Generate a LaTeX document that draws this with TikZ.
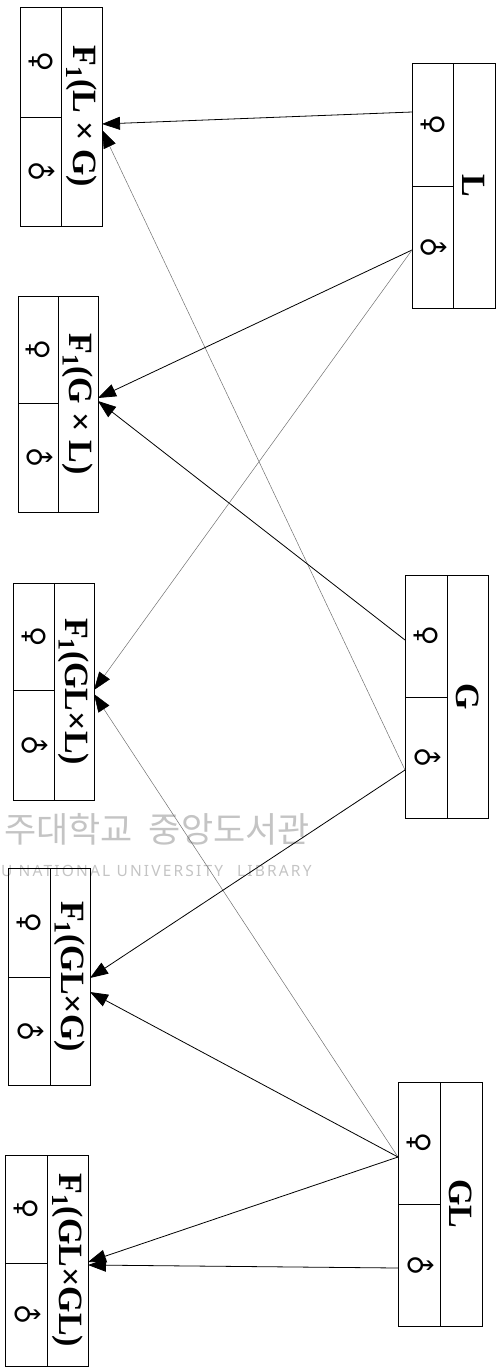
\documentclass[tikz,border=0pt]{standalone}
\usepackage{fontspec}
\setmainfont{Liberation Serif}
\newfontfamily\symf{DejaVu Sans}
\newfontfamily\krf{Noto Sans CJK KR}
\newfontfamily\wmf[LetterSpace=14]{Noto Sans}
\usetikzlibrary{arrows.meta,calc}
\definecolor{wmgray}{HTML}{C4C4C4}
\definecolor{faintline}{HTML}{707070}
% #1 name, #2 x left, #3 x divider, #4 x right, #5 y top, #6 y split, #7 y bottom, #8 label
\newcommand{\ubox}[8]{%
  \node[hdr, minimum width={(#4-#3)*1pt}, minimum height={(#7-#5)*1pt}] (#1) at ({(#3+#4)/2},{(#5+#7)/2}) {\rotatebox{-90}{#8}};
  \node[cell, minimum width={(#3-#2)*1pt}, minimum height={(#6-#5)*1pt}] (#1f) at ({(#2+#3)/2},{(#5+#6)/2}) {\rotatebox{-90}{♀}};
  \node[cell, minimum width={(#3-#2)*1pt}, minimum height={(#7-#6)*1pt}] (#1m) at ({(#2+#3)/2},{(#6+#7)/2}) {\rotatebox{-45}{♂}};
}
\begin{document}
\begin{tikzpicture}[x=1pt,y=-1pt,
  hdr/.style={draw, line width=0.9pt, inner sep=0pt, outer sep=0pt, font=\fontsize{34}{36}\selectfont\bfseries},
  cell/.style={draw, line width=0.7pt, inner sep=0pt, outer sep=0pt, font=\symf\fontsize{28}{30}\selectfont},
  link/.style={line width=0.8pt, -{Triangle[length=18pt,width=13pt,color=black]}},
  faint/.style={line width=0.5pt, draw=faintline, -{Triangle[length=18pt,width=13pt,color=black]}},
  wm/.style={inner sep=0pt, text=wmgray, anchor=west}]
\useasboundingbox (0,0) rectangle (497,1369);
% watermark
\node[wm, font=\krf\fontsize{35}{38}\selectfont] (wm1) at (4,829) {주대학교\hspace{16pt}중앙도서관};
\node[wm, font=\wmf\fontsize{15.5}{17}\selectfont] (wm2) at (1,871) {U NATIONAL UNIVERSITY\hspace{14pt}LIBRARY};
% target boxes
\ubox{T1}{20}{61}{102}{7}{117}{226}{F\textsubscript{1}(L × G)}
\ubox{T2}{18}{58}{98}{296}{403}{512}{F\textsubscript{1}(G × L)}
\ubox{T3}{13}{54}{94}{583}{690}{800}{F\textsubscript{1}(GL×L)}
\ubox{T4}{8}{50}{90}{868}{977}{1085}{F\textsubscript{1}(GL×G)}
\ubox{T5}{5}{47}{88}{1155}{1263}{1366}{F\textsubscript{1}(GL×GL)}
% source boxes
\ubox{sL}{412}{453}{495}{63}{186}{308}{L}
\ubox{sG}{405}{447}{488}{575}{697}{818}{G}
\ubox{sGL}{398}{440}{482}{1082}{1204}{1326}{GL}
% connectors
\draw[link]  ($(sLf.west)+(0,-12.5)$) -- ($(T1.east)+(0,7.5)$);
\draw[faint] ($(sGm.west)+(0,12.5)$) -- ($(T1.east)+(0,13.5)$);
\draw[link]  ($(sLm.west)+(0,3)$) -- ($(T2.east)+(0,-6)$);
\draw[link]  ($(sGf.west)+(0,4)$) -- ($(T2.east)+(0,-3)$);
\draw[faint] ($(sLm.west)+(0,3)$) -- ($(T3.east)+(0,-1.5)$);
\draw[faint] ($(sGLf.west)+(0,14)$) -- ($(T3.east)+(0,2.5)$);
\draw[link]  ($(sGm.west)+(0,12.5)$) -- ($(T4.east)+(0,1.5)$);
\draw[link]  ($(sGLf.west)+(0,14)$) -- ($(T4.east)+(0,15.5)$);
\draw[link]  ($(sGLf.west)+(0,14)$) -- ($(T5.east)+(0,1.5)$);
\draw[link]  ($(sGLm.west)+(0,3)$) -- ($(T5.east)+(0,4.5)$);
\end{tikzpicture}
\end{document}
